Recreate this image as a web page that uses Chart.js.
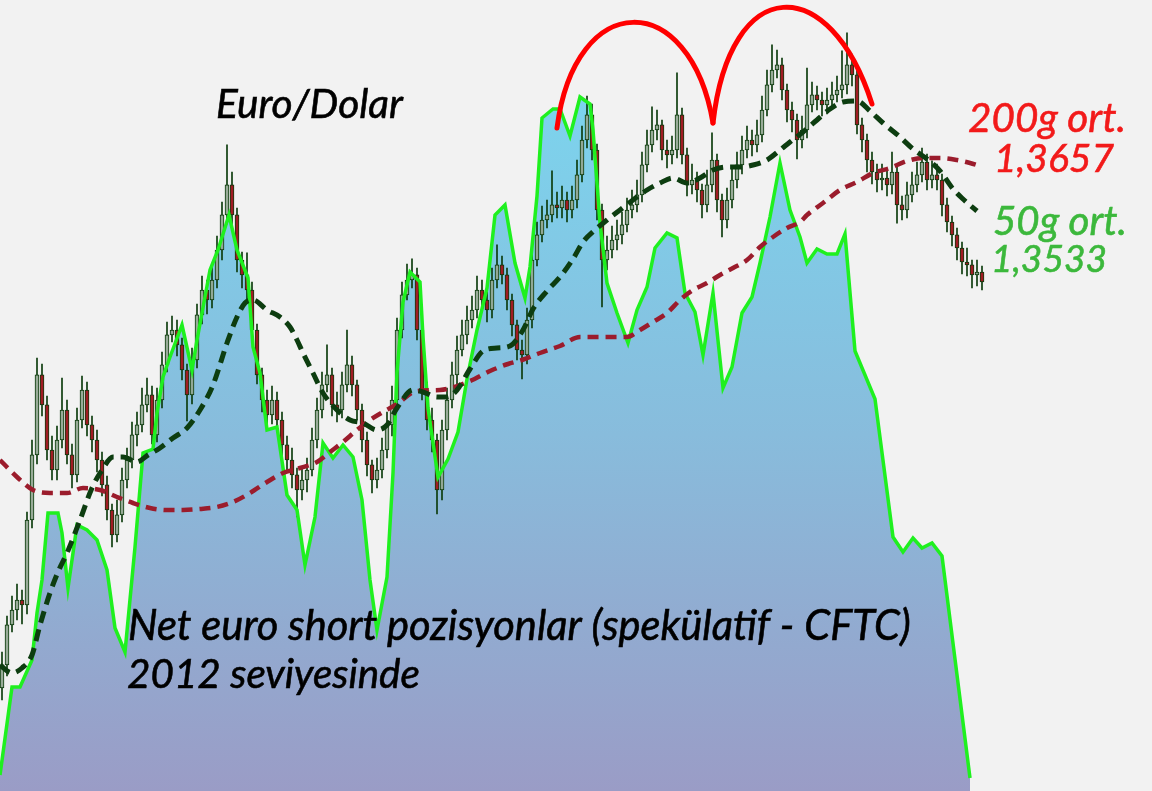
<!DOCTYPE html>
<html><head><meta charset="utf-8">
<script src="https://cdn.jsdelivr.net/npm/chart.js@4.4.1/dist/chart.umd.min.js"></script>
<style>html,body{margin:0;padding:0;background:#f2f2f2;overflow:hidden}#wrap{position:relative;width:1152px;height:791px}</style>
</head><body><div id="wrap"><canvas id="c"></canvas></div>
<script>
// EUR/USD daily candles (prices in pips, 1 pip = 0.0001), day index = position in arrays
const firstOpen = 12330;
const closePips = [
12388,12488,12525,12550,12538,12750,12913,13113,13038,12925,
12875,12950,13025,12913,12863,13000,13075,12988,12950,12900,
12838,12775,12713,12763,12850,12900,12963,12988,13038,13063,
12963,13050,13138,13213,13225,13188,13125,13063,13150,13263,
13325,13300,13350,13425,13513,13588,13513,13400,13363,13325,
13225,13113,13050,13013,13050,13000,12938,12900,12863,12825,
12850,12875,12950,13025,13088,13113,13038,13025,13088,13138,
13088,13025,12950,12888,12850,12875,12925,12988,13050,13225,
13313,13350,13363,13225,13075,13000,12950,12825,12975,13050,
13113,13175,13213,13250,13275,13325,13300,13275,13350,13388,
13363,13300,13238,13175,13163,13250,13400,13463,13500,13513,
13538,13530,13550,13525,13550,13613,13700,13763,13675,13525,
13400,13425,13450,13463,13488,13525,13538,13563,13638,13688,
13725,13738,13675,13663,13675,13763,13663,13588,13600,13575,
13538,13588,13650,13550,13500,13550,13600,13638,13675,13700,
13688,13713,13775,13838,13875,13888,13825,13775,13750,13700,
13725,13788,13813,13800,13788,13800,13813,13825,13838,13888,
13863,13738,13700,13650,13620,13600,13605,13588,13620,13538,
13525,13563,13588,13613,13645,13600,13613,13600,13538,13495,
13463,13430,13395,13388,13363,13370,13345];
const highPips = [
12420,12510,12560,12590,12575,12770,12950,13155,13140,13060,
12960,12985,13105,13050,12940,13030,13110,13095,13010,12975,
12920,12860,12790,12800,12880,12930,12995,13020,13080,13105,
13085,13080,13170,13245,13260,13250,13205,13140,13180,13290,
13360,13350,13385,13460,13545,13688,13620,13530,13420,13418,
13345,13240,13130,13075,13085,13070,13020,12960,12930,12880,
12880,12905,12980,13055,13120,13188,13130,13070,13120,13225,
13160,13100,13040,12970,12900,12905,12955,13020,13085,13255,
13345,13390,13403,13380,13240,13095,13030,12965,13000,13080,
13145,13210,13250,13285,13310,13360,13350,13320,13380,13438,
13410,13380,13315,13250,13200,13280,13430,13495,13535,13550,
13623,13570,13585,13570,13585,13650,13735,13810,13790,13690,
13540,13460,13485,13500,13520,13555,13575,13600,13670,13725,
13783,13775,13750,13700,13710,13868,13780,13680,13640,13620,
13590,13625,13718,13665,13565,13580,13630,13670,13710,13735,
13725,13750,13810,13875,13938,13925,13905,13840,13795,13765,
13760,13880,13845,13835,13820,13830,13845,13860,13923,13968,
13915,13875,13755,13715,13670,13640,13640,13625,13670,13635,
13560,13595,13620,13645,13680,13665,13648,13640,13615,13555,
13510,13480,13445,13430,13400,13400,13385];
const lowPips = [
12300,12360,12470,12500,12490,12515,12730,12890,13010,12900,
12850,12850,12930,12890,12830,12845,12980,12960,12920,12870,
12810,12750,12683,12695,12745,12830,12880,12935,12970,13020,
12940,12945,13030,13120,13195,13160,13100,12998,13040,13130,
13240,13265,13280,13330,13400,13490,13480,13370,13330,13300,
13200,13090,13020,12985,12990,12970,12910,12870,12830,12758,
12800,12820,12860,12930,13005,13070,13010,12995,13005,13070,
13060,13000,12920,12860,12818,12830,12855,12905,12960,13030,
13205,13300,13330,13200,13050,12975,12920,12765,12800,12950,
13030,13090,13160,13190,13230,13255,13270,13245,13255,13330,
13340,13275,13210,13150,13103,13140,13230,13385,13445,13480,
13495,13505,13505,13495,13505,13530,13595,13680,13650,13500,
13283,13375,13405,13425,13440,13470,13505,13520,13545,13620,
13670,13700,13650,13630,13640,13655,13640,13560,13565,13545,
13505,13520,13570,13520,13458,13480,13530,13580,13615,13655,
13660,13670,13695,13760,13820,13855,13800,13745,13720,13653,
13680,13705,13770,13775,13760,13765,13780,13795,13805,13815,
13835,13715,13670,13620,13590,13570,13575,13560,13565,13492,
13500,13505,13545,13570,13595,13575,13580,13575,13510,13470,
13435,13400,13365,13360,13330,13335,13325];

// Net speculative euro position (CFTC, thousand contracts, weekly) - day index of each report
const areaDays = [-0.4,2,3.6,6,7,8,9.2,11.2,12,13.2,15,17,19,21,22.6,24.6,26.6,28.2,30.2,31,32.2,33.6,36,38,39,41.6,43.2,45.4,47,49.2,50.2,51.6,53,55,57,59,60.6,62.6,64.2,66.2,68.2,70.2,72,73.6,75,77,78.2,79,80.2,81.6,83.6,84.2,85.2,87.2,89.2,91.2,93,95,97,98.6,100.6,102.6,104.6,105.6,107,108,110.2,111.6,113.6,115.6,117.6,118.2,119.6,121,123,125.2,127,129,130.6,133,135,136.6,138.6,140.2,142.2,144.2,146,148,150,151.6,153.6,155.6,157.6,159.6,161,163,165,167,168.6,170.6,174.6,178.2,180.2,182.2,184,186,188,193.6];
const areaVals = [4,26,26,32.75,44.5,52.75,69.5,69.5,64.5,50.75,66.5,65.25,62.75,55.25,40.75,34.75,61,84.5,85.5,94.5,103.5,108.5,116.5,105.25,112.75,130.25,135.25,144,135.25,128.25,111,104.5,90.25,91,74,70.25,56.5,68.5,87,83.25,86.5,83.5,72.75,52.75,40.25,53.5,79.5,104.75,122.25,129.75,127.25,113.5,95.75,78.5,83,89.75,103,115.25,125.75,144,146.5,132,123.25,131,148.75,168.25,170.5,170.5,163.75,173.5,171.75,165.25,142,127,119.5,112,120.25,126,135.75,139.5,138.25,124.5,119.75,109,124.5,100.75,106,119.5,123.5,132,143.5,157,145.25,138.5,132,135.5,134.25,134.25,139.25,110,98,63.5,59.75,63.25,60.75,62,58.75,3.25];

// 50-day and 200-day moving averages (pips)
const ma50Days = [-0.4,2,4,6,7.6,9.6,11.2,13,15.6,18,20,22.2,24.2,27,29.2,31.6,34.2,37,39.6,42.2,45,47,48.6,50.2,53,55.6,57.6,59,60.2,62.2,64.2,67,69.6,72.2,75,77,79,82.2,84.2,87,89,91,93.6,96.2,99,101.6,104.2,106.2,109,111.6,114.2,116.2,118.6,121,123.6,126.2,129,131.6,134.2,137,139.6,142.2,145,147.6,150.2,153,155.6,157.6,160.2,163,165.6,168.2,171,173.6,176.2,179.6,182.2,185,187.6,190.2,192.2,195];
const ma50Vals = [12387.5,12367.5,12380,12412.5,12487.5,12567.5,12620,12667.5,12750,12830,12875,12907.5,12907.5,12895,12912.5,12930,12955,12980,13025,13087.5,13192.5,13257.5,13292.5,13300,13275,13257.5,13232.5,13200,13167.5,13117.5,13067.5,13025,13000,12992.5,12975,12987.5,13030,13075,13070,13057.5,13057.5,13075,13127.5,13172.5,13180,13185,13225,13277.5,13322.5,13357.5,13402.5,13445,13475,13500,13525,13550,13575,13592.5,13605,13592.5,13605,13625,13632.5,13632.5,13637.5,13650,13675,13695,13720,13750,13777.5,13795,13797.5,13772.5,13742.5,13707.5,13677.5,13652.5,13622.5,13577.5,13552.5,13522.5];
const ma200Days = [-0.4,3,6.2,9.6,13,16.2,19.6,23,26.2,29.6,33,36.2,39.6,43,46.2,49.6,53,56.2,59.6,63,65.6,68.2,71,73.6,76.2,79,83,87.6,93.6,97.6,101.2,104,107.6,111.6,115.6,119.6,123,125,127.6,130.2,133,135.6,138.2,141,143.6,146.2,149,151.6,154.2,157,159.6,161,164.2,167.6,171,174.2,177.6,181,184.2,187.6,191,193.6,195.6];
const ma200Vals = [12900,12857.5,12825,12817.5,12817.5,12830,12825,12807.5,12792.5,12780,12775,12775,12777.5,12782.5,12795,12817.5,12845,12867.5,12880,12895,12920,12945,12975,13000,13020,13040,13072.5,13075,13097.5,13122.5,13140,13150,13167.5,13185,13207.5,13207.5,13207.5,13207.5,13225,13245,13267.5,13300,13325,13342.5,13362.5,13380,13400,13432.5,13457.5,13480,13495,13512.5,13542.5,13575,13595,13617.5,13630,13647.5,13655,13655,13650,13642.5,13635];

// double-top annotation arcs: [day, pips] start, control, control, end
const arc1 = [[111,13730],[114.6,14080],[137.6,14080],[142.2,13742.5]];
const arc2 = [[142.2,13742.5],[145.6,14120],[165.6,14120],[174,13790]];

const texts = [
  {t:'Euro/Dolar', x0:216, x1:403, base:118, color:'#000000'},
  {t:'200g ort.', x0:968, x1:1126, base:132, color:'#f21a1a'},
  {t:'1,3657', x0:994, x1:1114, base:172, color:'#f21a1a'},
  {t:'50g ort.', x0:993, x1:1127, base:235, color:'#3cb83c'},
  {t:'1,3533', x0:991, x1:1107, base:272, color:'#3cb83c'},
  {t:'Net euro short pozisyonlar (spekülatif - CFTC)', x0:128, x1:911, base:640, color:'#000000'},
  {t:'2012 seviyesinde', x0:127, x1:420, base:688, color:'#000000'}
];
const FONT = 'Lato, "Open Sans", "DejaVu Sans", sans-serif';

const opens = closePips.map((c,i)=> i===0 ? firstOpen : closePips[i-1]);
const DARK = '#0b3b0b';

const overlay = {
  id:'overlay',
  afterDatasetsDraw(chart){
    const c = chart.ctx, sx = chart.scales.x, sy = chart.scales.yP;
    const P = p => [sx.getPixelForValue(p[0]), sy.getPixelForValue(p[1])];
    c.save();
    c.strokeStyle = '#ff0000'; c.lineWidth = 5; c.lineCap = 'round';
    [arc1, arc2].forEach(a=>{
      const p0=P(a[0]), p1=P(a[1]), p2=P(a[2]), p3=P(a[3]);
      c.beginPath(); c.moveTo(p0[0],p0[1]); c.bezierCurveTo(p1[0],p1[1],p2[0],p2[1],p3[0],p3[1]); c.stroke();
    });
    c.textBaseline = 'alphabetic'; c.textAlign = 'left';
    texts.forEach(o=>{
      c.font = 'italic 40px ' + FONT;
      const w = c.measureText(o.t).width;
      const s = 40 * (o.x1 - o.x0) / w;
      c.font = 'italic ' + s.toFixed(2) + 'px ' + FONT;
      c.fillStyle = o.color;
      c.strokeStyle = o.color; c.lineWidth = 0.6;
      c.fillText(o.t, o.x0, o.base);
      c.strokeText(o.t, o.x0, o.base);
    });
    c.restore();
  }
};

function build(){
  const ctx = document.getElementById('c');
  new Chart(ctx, {
    type:'bar',
    data:{ datasets:[
      { type:'line', label:'areaFill', data: areaDays.map((d,i)=>({x:d,y:areaVals[i]})), yAxisID:'yA',
        borderWidth:0, pointRadius:0, fill:'start', tension:0, order:10,
        backgroundColor:(cx)=>{ const ch=cx.chart, a=ch.chartArea; if(!a) return '#88c0e0';
          const g=ch.ctx.createLinearGradient(0,a.top,0,a.bottom);
          g.addColorStop(0,'#78d8f2'); g.addColorStop(0.15,'#7dd2ec'); g.addColorStop(0.55,'#88bcdc'); g.addColorStop(1,'#9a9cc6'); return g; } },
      { type:'bar', label:'wicks', data: closePips.map((c,i)=>({x:i,y:[lowPips[i],highPips[i]]})), yAxisID:'yP',
        backgroundColor:DARK, barThickness:1, grouped:false, order:8 },
      { type:'bar', label:'bodies', data: closePips.map((c,i)=>({x:i,y:[opens[i],c]})), yAxisID:'yP',
        backgroundColor: closePips.map((c,i)=> c < opens[i] ? '#a01c24' : 'rgba(246,246,246,0.55)'),
        borderColor:DARK, borderWidth:1, borderSkipped:false, barThickness:4, grouped:false, minBarLength:2, order:7 },
      { type:'line', label:'areaLine', data: areaDays.map((d,i)=>({x:d,y:areaVals[i]})), yAxisID:'yA',
        borderColor:'#1ff01f', borderWidth:3.5, pointRadius:0, fill:false, tension:0, order:6 },
      { type:'line', label:'MA200', data: ma200Days.map((d,i)=>({x:d,y:ma200Vals[i]})), yAxisID:'yP',
        borderColor:'#9b1c2c', borderWidth:4.5, borderDash:[11,7], pointRadius:0, fill:false, cubicInterpolationMode:'monotone', order:5 },
      { type:'line', label:'MA50', data: ma50Days.map((d,i)=>({x:d,y:ma50Vals[i]})), yAxisID:'yP',
        borderColor:'#0d3d10', borderWidth:5, borderDash:[12,7], pointRadius:0, fill:false, cubicInterpolationMode:'monotone', order:4 }
    ]},
    options:{
      responsive:true, maintainAspectRatio:false, animation:false, events:[], devicePixelRatio:1,
      layout:{padding:0},
      plugins:{legend:{display:false}, tooltip:{enabled:false}},
      scales:{
        x:{type:'linear', min:-0.4, max:230, display:false, offset:false},
        yP:{type:'linear', min:12072.5, max:14050, display:false},
        yA:{type:'linear', min:0, max:197.75, display:false}
      }
    },
    plugins:[overlay]
  });
}
if (document.fonts && document.fonts.load) {
  Promise.all([document.fonts.load('italic 40px Lato'), document.fonts.load('italic 40px "Open Sans"')]).then(build, build);
} else build();
</script></body></html>
